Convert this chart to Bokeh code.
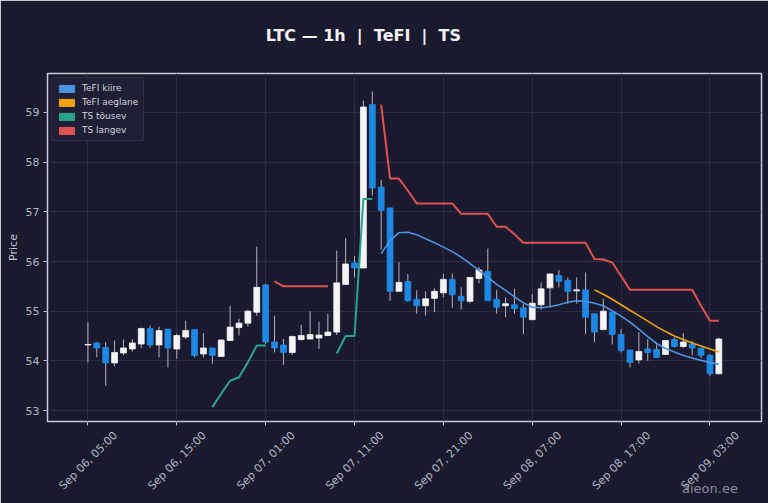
import math
import numpy as np
import pandas as pd
from bokeh.plotting import figure
from bokeh.models import (ColumnDataSource, Range1d, FixedTicker, CustomJSTickFormatter,
                          Legend, LegendItem, DatetimeAxis)
from bokeh.embed import file_html
from bokeh.resources import INLINE

# ---------------- data ----------------
start_time = "2025-09-06 05:00"
opens = [54.32, 54.36, 54.27, 53.96, 54.16, 54.24, 54.34, 54.65, 54.32, 54.64,
         54.24, 54.48, 54.63, 54.14, 54.26, 54.09, 54.41, 54.67, 54.76, 54.98,
         55.53, 54.38, 54.32, 54.17, 54.43, 54.44, 54.46, 54.51, 54.58, 55.54,
         55.97, 55.87, 59.16, 57.50, 57.08, 55.40, 55.60, 55.24, 55.11, 55.26,
         55.37, 55.64, 55.30, 55.20, 55.66, 55.80, 55.24, 55.11, 55.13, 55.07,
         54.83, 55.13, 55.47, 55.72, 55.62, 55.41, 55.43, 54.95, 54.63, 54.98,
         54.53, 54.22, 54.02, 54.24, 54.23, 54.13, 54.43, 54.29, 54.34, 54.26,
         54.11, 53.74]
closes = [54.33, 54.26, 53.96, 54.17, 54.26, 54.36, 54.65, 54.32, 54.61, 54.26,
          54.51, 54.61, 54.11, 54.26, 54.11, 54.42, 54.68, 54.76, 55.00, 55.48,
          54.38, 54.26, 54.17, 54.49, 54.51, 54.53, 54.52, 54.58, 55.57, 55.95,
          55.87, 59.11, 57.48, 57.03, 55.40, 55.58, 55.21, 55.11, 55.25, 55.40,
          55.64, 55.33, 55.21, 55.68, 55.83, 55.21, 55.08, 55.15, 55.05, 54.88,
          55.16, 55.45, 55.75, 55.60, 55.40, 55.43, 54.88, 54.58, 55.00, 54.53,
          54.21, 53.97, 54.19, 54.17, 54.07, 54.41, 54.29, 54.38, 54.26, 54.11,
          53.74, 54.44]
highs = [54.78, 54.38, 54.38, 54.41, 54.43, 54.44, 54.67, 54.71, 54.69, 54.64,
         54.55, 54.81, 54.63, 54.56, 54.26, 54.43, 55.11, 54.85, 55.03, 56.30,
         55.55, 54.91, 54.44, 54.51, 54.73, 55.00, 54.79, 54.95, 56.22, 56.47,
         56.11, 59.24, 59.42, 57.65, 57.08, 55.99, 55.75, 55.42, 55.40, 55.46,
         55.75, 55.76, 55.48, 55.68, 55.89, 56.26, 55.43, 55.28, 55.45, 55.15,
         55.35, 55.58, 55.75, 55.83, 55.68, 55.68, 55.78, 54.95, 55.25, 54.98,
         54.64, 54.22, 54.58, 54.44, 54.33, 54.41, 54.47, 54.56, 54.40, 54.26,
         54.14, 54.47]
lows = [53.97, 54.07, 53.50, 53.89, 54.11, 54.19, 54.26, 54.27, 54.07, 53.87,
        54.04, 54.44, 54.07, 54.07, 53.94, 54.08, 54.41, 54.51, 54.69, 54.91,
        54.34, 54.17, 53.92, 54.12, 54.41, 54.44, 54.24, 54.51, 54.52, 55.54,
        55.68, 55.87, 57.33, 56.24, 55.21, 55.40, 55.19, 54.95, 54.91, 54.98,
        55.28, 55.07, 55.03, 55.16, 55.56, 55.21, 54.95, 54.88, 54.95, 54.54,
        54.83, 55.03, 55.08, 55.48, 55.15, 55.15, 54.54, 54.38, 54.63, 54.33,
        54.17, 53.87, 53.95, 54.00, 54.06, 54.13, 54.27, 54.26, 54.11, 54.06,
        53.69, 53.74]

N = None
tefi_kiire = [N] * 33 + [
    56.16, 56.42, 56.58, 56.59, 56.54, 56.46, 56.38, 56.29, 56.20, 56.09,
    55.96, 55.82, 55.68, 55.54, 55.42, 55.29, 55.17, 55.08, 55.07, 55.09,
    55.13, 55.18, 55.21, 55.20, 55.16, 55.11, 55.01, 54.90, 54.78, 54.64,
    54.49, 54.35, 54.25, 54.18, 54.11, 54.06, 54.01, 53.97, 53.93]
tefi_aeglane = [N] * 57 + [
    55.43, 55.34, 55.24, 55.13, 55.02, 54.91, 54.80, 54.69, 54.59, 54.50,
    54.43, 54.36, 54.30, 54.24, 54.18]
ts_tousev = [N] * 14 + [53.07, 53.34, 53.60, 53.67, 53.97, 54.31, 54.31] + [N] * 7 + \
            [54.15, 54.50, 54.50, 57.26, 57.26] + [N] * 39
ts_langev = [N] * 21 + [55.60, 55.50, 55.50, 55.50, 55.50, 55.50, 55.50] + [N] * 5 + [
    59.16, 57.67, 57.67, 57.43, 57.17, 57.17, 57.17, 57.17, 57.17, 56.96,
    56.96, 56.96, 56.96, 56.70, 56.70, 56.55, 56.38, 56.38, 56.38, 56.38,
    56.38, 56.38, 56.38, 56.38, 56.05, 56.04, 55.98, 55.71, 55.43, 55.43,
    55.43, 55.43, 55.43, 55.43, 55.43, 55.43, 55.11, 54.81, 54.81]

y_ticks = [53, 54, 55, 56, 57, 58, 59]
x_tick_every = 10
title_text = "LTC \u2014 1h \u00a0|\u00a0 TeFI \u00a0|\u00a0 TS"
legend_labels = ["TeFI kiire", "TeFI aeglane", "TS t\u00f5usev", "TS langev"]
watermark = "aieon.ee"

# ---------------- styling ----------------
BG = "#1a1a2e"
BULL = "#f4f4f6"
BEAR = "#1e88e5"
WICK = "#b4b4bc"
C_KIIRE = "#4d94e0"
C_AEG = "#f0a30a"
C_UP = "#2aa58a"
C_DN = "#e05252"
TXT = "#b4b4c4"
FONT = "DejaVu Sans"

times = pd.date_range(start_time, periods=len(opens), freq="h")
HOUR = 3600 * 1000


def arr(v):
    return np.array([np.nan if x is None else x for x in v], dtype=float)


def ms(t):
    return t.value // 10**6


o = np.array(opens)
c = np.array(closes)
bull = c >= o
src = ColumnDataSource(dict(
    t=times, o=o, c=c, h=np.array(highs), l=np.array(lows),
    top=np.maximum(o, c), bot=np.minimum(o, c),
    col=[BULL if b else BEAR for b in bull],
))
lines_src = ColumnDataSource(dict(
    t=times, k=arr(tefi_kiire), a=arr(tefi_aeglane), u=arr(ts_tousev), d=arr(ts_langev)))

t0 = times[0]
p = figure(width=768, height=503, output_backend="svg", toolbar_location=None,
           x_axis_type="datetime",
           x_range=Range1d(t0 - pd.Timedelta(hours=4.55), t0 + pd.Timedelta(hours=75.8)),
           y_range=Range1d(52.78, 59.785),
           min_border_left=47, min_border_right=7, min_border_top=73, min_border_bottom=82)

p.background_fill_color = BG
p.border_fill_color = BG
p.outline_line_color = "#c9c9d6"
p.outline_line_width = 1.5
p.title.text = ""

# candles
p.segment(x0="t", x1="t", y0="l", y1="h", source=src, line_color=WICK, line_width=1)
p.vbar(x="t", top="top", bottom="bot", width=0.66 * HOUR, source=src,
       fill_color="col", line_color="col", line_width=0.8)

# overlays
p.line("t", "u", source=lines_src, line_color=C_UP, line_width=2)
p.line("t", "d", source=lines_src, line_color=C_DN, line_width=2)
p.line("t", "k", source=lines_src, line_color=C_KIIRE, line_width=1.6)
p.line("t", "a", source=lines_src, line_color=C_AEG, line_width=1.6)

# legend with colored patches (proxy glyphs placed outside the visible range)
proxy = ColumnDataSource(dict(x=[t0 - pd.Timedelta(hours=500)], y=[0.0]))
items = []
for lab, col in zip(legend_labels, [C_KIIRE, C_AEG, C_UP, C_DN]):
    r = p.rect("x", "y", width=1, height=1, source=proxy, fill_color=col, line_color=col)
    items.append(LegendItem(label=lab, renderers=[r]))
legend = Legend(items=items, location="top_left")
legend.background_fill_color = "#1f1f36"
legend.background_fill_alpha = 0.95
legend.border_line_color = "#3c3c58"
legend.label_text_color = "#d4d4dc"
legend.label_text_font = FONT
legend.label_text_font_size = "9px"
legend.glyph_width = 19
legend.glyph_height = 9
legend.label_height = 10
legend.label_standoff = 6
legend.spacing = 4
legend.padding = 5
legend.margin = 4
p.add_layout(legend)


def plain_axis(ax):
    ax.axis_line_color = None
    ax.major_tick_line_color = None
    ax.minor_tick_line_color = None
    ax.major_tick_out = 0
    ax.major_tick_in = 0


# ---- primary axes (ticks) ----
tick_times = times[::x_tick_every]
p.xaxis.ticker = FixedTicker(ticks=[ms(t) for t in tick_times])
p.xaxis.formatter = CustomJSTickFormatter(code="return ''")
p.xaxis.major_label_standoff = 0
p.yaxis.ticker = FixedTicker(ticks=y_ticks)
p.yaxis.axis_label = "Price"
for ax in (p.xaxis, p.yaxis):
    ax.axis_line_color = None
    ax.major_tick_line_color = "#c0c0cc"
    ax.major_tick_out = 4
    ax.major_tick_in = 0
    ax.minor_tick_line_color = None
    ax.major_label_text_color = TXT
    ax.major_label_text_font = FONT
    ax.major_label_text_font_size = "11px"
    ax.axis_label_text_color = "#c4c4d0"
    ax.axis_label_text_font = FONT
    ax.axis_label_text_font_size = "11px"
    ax.axis_label_text_font_style = "normal"
    ax.axis_label_standoff = 3
p.yaxis.major_label_standoff = 4

# ---- rotated x tick labels, centred under their ticks ----
shift = pd.Timedelta(hours=3.1)
lab_axis = DatetimeAxis(
    ticker=FixedTicker(ticks=[ms(t + shift) for t in tick_times]),
    formatter=CustomJSTickFormatter(
        args=dict(labels=[t.strftime("%b %d, %H:%M") for t in tick_times]),
        code="return labels[index]"))
plain_axis(lab_axis)
lab_axis.major_label_orientation = math.pi / 4
lab_axis.major_label_standoff = 8
lab_axis.major_label_text_color = TXT
lab_axis.major_label_text_font = FONT
lab_axis.major_label_text_font_size = "11px"
p.add_layout(lab_axis, "below")

# ---- watermark ----
wm_axis = DatetimeAxis(
    ticker=FixedTicker(ticks=[ms(times[70])]),
    formatter=CustomJSTickFormatter(args=dict(txt=watermark), code="return txt"))
plain_axis(wm_axis)
wm_axis.major_label_standoff = -20
wm_axis.major_label_text_color = "#8a8a98"
wm_axis.major_label_text_font = FONT
wm_axis.major_label_text_font_size = "13px"
p.add_layout(wm_axis, "below")

# ---- title (as a single-tick label above the frame) ----
title_axis = DatetimeAxis(
    ticker=FixedTicker(ticks=[ms(times[31])]),
    formatter=CustomJSTickFormatter(args=dict(txt=title_text), code="return txt"))
plain_axis(title_axis)
title_axis.major_label_standoff = 29
title_axis.major_label_text_color = "#f2f2f6"
title_axis.major_label_text_font = FONT
title_axis.major_label_text_font_size = "16px"
title_axis.major_label_text_font_style = "bold"
p.add_layout(title_axis, "above")

p.xgrid.grid_line_color = "#2b2b46"
p.ygrid.grid_line_color = "#2b2b46"

open("out.html", "w").write(file_html(p, INLINE))
